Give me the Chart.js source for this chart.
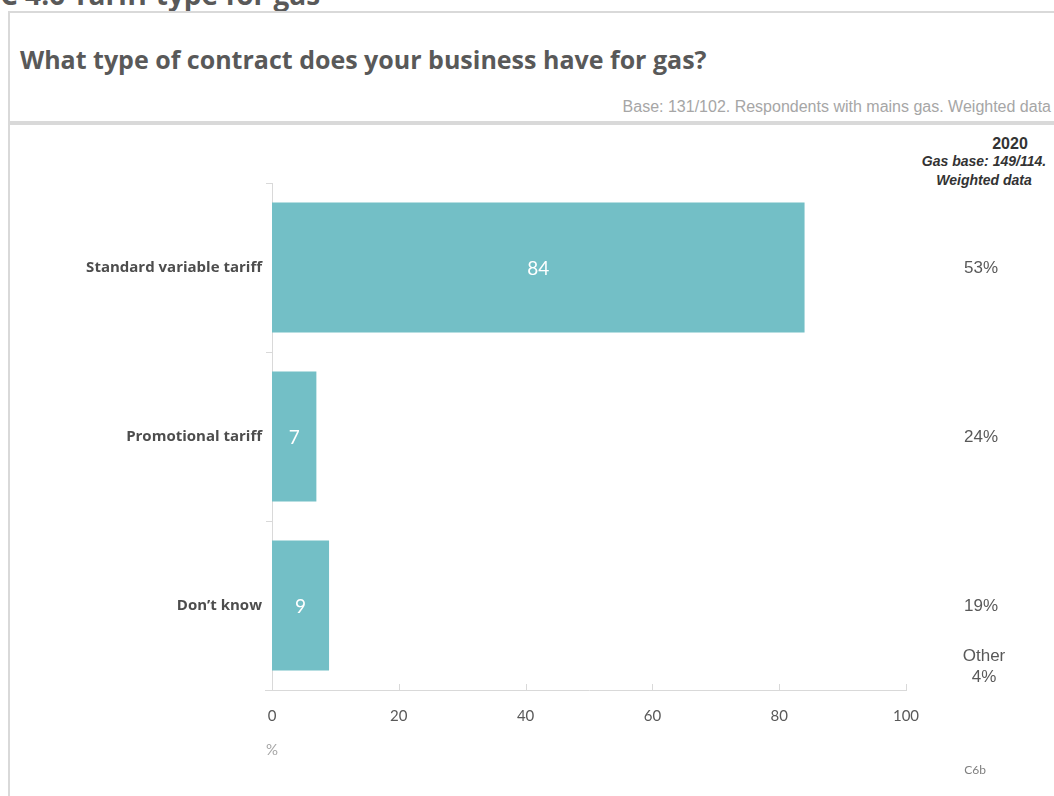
<!DOCTYPE html>
<html>
<head>
<meta charset="utf-8">
<script src="https://cdn.jsdelivr.net/npm/chart.js@4"></script>
<style>
  html, body { margin: 0; padding: 0; background: #fff; width: 1054px; height: 796px; overflow: hidden; position: relative; }
  .abs { position: absolute; white-space: nowrap; }
  #section { left: 0; top: -20px; font: bold 28px "Open Sans", sans-serif; color: #595959; line-height: 28px; }
  #box { left: 8px; top: 11px; width: 1100px; height: 900px; border: 2px solid #d9d9d9; box-sizing: border-box; }
  #rule { left: 8px; top: 121px; width: 1100px; height: 4px; background: #d9d9d9; }
  #title { left: 20px; top: 42px; font: bold 25px "Open Sans", sans-serif; color: #595959; }
  #base { right: 3px; top: 98px; font: 16px "Liberation Sans", Arial, sans-serif; color: #a6a6a6; }
  .hdr { font: bold italic 14px "Liberation Sans", Arial, sans-serif; color: #333; transform: translateX(-50%); }
  #chart { position: absolute; left: 0; top: 0; }
</style>
</head>
<body>
<div class="abs" id="section">C 4.6 Tariff type for gas</div>
<div class="abs" id="box"></div>
<div class="abs" id="rule"></div>
<div class="abs" id="title">What type of contract does your business have for gas?</div>
<div class="abs" id="base">Base: 131/102. Respondents with mains gas. Weighted data</div>
<div class="abs hdr" style="left:1010px; top:135px; font-size:16px; font-style:normal;">2020</div>
<div class="abs hdr" style="left:984px; top:153px;">Gas base: 149/114.</div>
<div class="abs hdr" style="left:984px; top:172px;">Weighted data</div>
<canvas id="chart" width="1054" height="796"></canvas>
<script>
const categories = ["Standard variable tariff", "Promotional tariff", "Don\u2019t know"];
const values = [84, 7, 9];
const prevYear = ["53%", "24%", "19%"];
const otherLabel = ["Other", "4%"];

const barColour = "#73bfc6";
const axisGrey = "#d9d9d9";

// value labels in the bars, 2020 column on the right, footnotes
const extrasPlugin = {
  id: "extras",
  afterDraw(chart) {
    const ctx = chart.ctx;
    const meta = chart.getDatasetMeta(0);
    const x = chart.scales.x;
    const y = chart.scales.y;
    ctx.save();

    // small upward ticks on the x axis
    ctx.strokeStyle = axisGrey;
    ctx.lineWidth = 1;
    x.ticks.forEach(t => {
      const px = Math.round(x.getPixelForValue(t.value)) + 0.5;
      ctx.beginPath();
      ctx.moveTo(px, x.top - 6);
      ctx.lineTo(px, x.top);
      ctx.stroke();
    });
    // axis line runs a little left of zero
    ctx.beginPath();
    ctx.moveTo(x.left - 7, x.top + 0.5);
    ctx.lineTo(x.left, x.top + 0.5);
    ctx.stroke();

    ctx.fillStyle = "#ffffff";
    ctx.font = "19px Lato, sans-serif";
    ctx.textAlign = "center";
    ctx.textBaseline = "middle";
    meta.data.forEach((bar, i) => {
      ctx.fillText(String(values[i]), (bar.base + bar.x) / 2, bar.y + 1);
    });

    ctx.fillStyle = "#595959";
    ctx.font = "17px 'Liberation Sans', Arial, sans-serif";
    prevYear.forEach((v, i) => {
      ctx.fillText(v, 981, y.getPixelForValue(i) + 1);
    });
    ctx.fillText(otherLabel[0], 984, 656);
    ctx.fillText(otherLabel[1], 984, 677);

    ctx.fillStyle = "#a6a6a6";
    ctx.font = "15px Lato, sans-serif";
    ctx.fillText("%", x.left, 750);

    ctx.fillStyle = "#7f7f7f";
    ctx.font = "12px Lato, sans-serif";
    ctx.fillText("C6b", 975, 770);
    ctx.restore();
  }
};

new Chart(document.getElementById("chart"), {
  type: "bar",
  data: {
    labels: categories,
    datasets: [{
      data: values,
      backgroundColor: barColour,
      barPercentage: 0.77,
      categoryPercentage: 1
    }]
  },
  options: {
    indexAxis: "y",
    responsive: false,
    animation: false,
    layout: { padding: { top: 183, right: 148, bottom: 66, left: 0 } },
    plugins: { legend: { display: false }, tooltip: { enabled: false } },
    scales: {
      x: {
        min: 0,
        max: 100,
        ticks: { stepSize: 20, color: "#595959", font: { family: "Lato", size: 15 }, padding: 9 },
        grid: { display: false },
        border: { display: true, color: axisGrey },
        afterFit(scale) { scale.height = 40; }
      },
      y: {
        ticks: { color: "#4d4d4d", font: { family: "Open Sans", size: 15, weight: "bold" }, padding: 4 },
        grid: { drawOnChartArea: false, tickLength: 6, color: axisGrey, offset: true },
        border: { display: true, color: axisGrey },
        afterFit(scale) { scale.width = 272; }
      }
    }
  },
  plugins: [extrasPlugin]
});
</script>
</body>
</html>
